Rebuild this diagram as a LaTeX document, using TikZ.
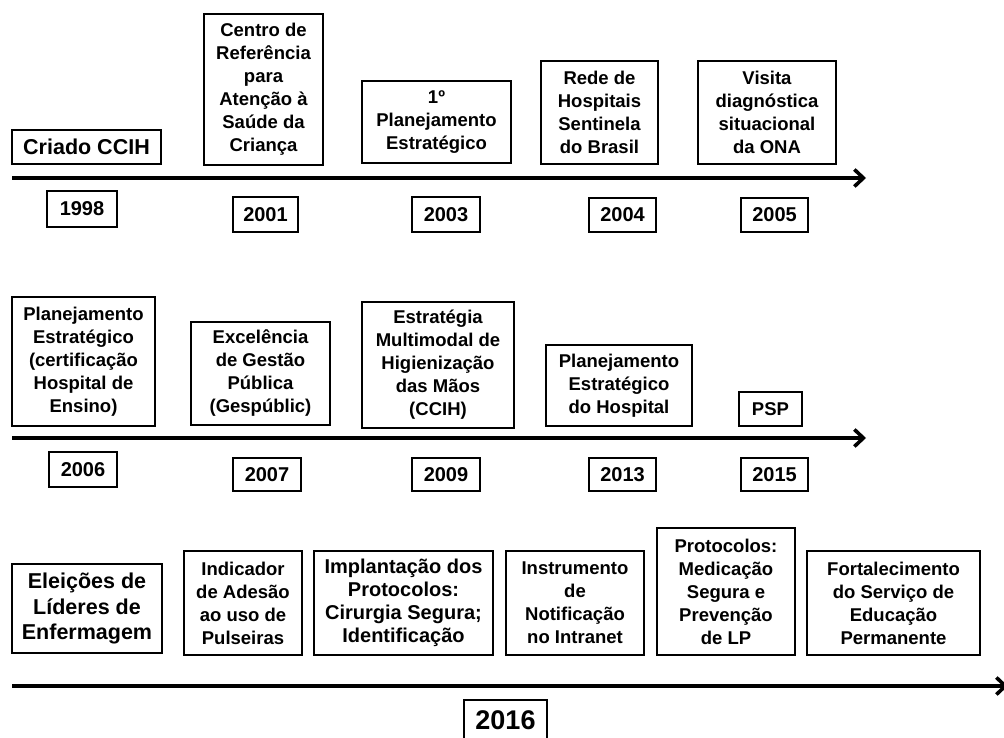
\documentclass[tikz,border=0pt]{standalone}
\usepackage{fontspec}
\setmainfont{Liberation Sans}
\usetikzlibrary{arrows.meta}
\tikzset{
  evbox/.style={draw=black, line width=2.4pt, rectangle, inner sep=0pt, align=center,
    font=\fontsize{18.5}{23}\selectfont\bfseries},
  bigbox/.style={evbox, font=\fontsize{21.5}{25.5}\selectfont\bfseries},
  midbox/.style={evbox, font=\fontsize{20}{23}\selectfont\bfseries},
  yearbox/.style={draw=black, line width=2.4pt, rectangle, inner sep=0pt,
    font=\fontsize{20}{24}\selectfont\bfseries},
  bigyear/.style={yearbox, font=\fontsize{27}{30}\selectfont\bfseries},
  timeline/.style={line width=3.6pt, -{Straight Barb[length=9pt,width=17pt,line width=3.6pt]}}
}
\begin{document}
\begin{tikzpicture}[x=1pt,y=-1pt]
\useasboundingbox (0,0) rectangle (1004,738);
% ---------- Row 1 ----------
\node[bigbox, minimum width=149, minimum height=34] (a1) at (86.5,147) {Criado CCIH};
\node[evbox, minimum width=119, minimum height=151] (a2) at (263.5,89.5) {Centro de\\Referência\\para\\Atenção à\\Saúde da\\Criança};
\node[evbox, minimum width=149, minimum height=82] (a3) at (436.5,122) {1º\\Planejamento\\Estratégico};
\node[evbox, minimum width=117, minimum height=103] (a4) at (599.5,112.5) {Rede de\\Hospitais\\Sentinela\\do Brasil};
\node[evbox, minimum width=138, minimum height=103] (a5) at (767,112.5) {Visita\\diagnóstica\\situacional\\da ONA};
\coordinate (s1) at (12,178);
\coordinate (e1) at (866,178);
\draw[timeline] (s1) -- (e1);
\node[yearbox, minimum width=70, minimum height=36] (y1998) at (82,209) {1998};
\node[yearbox, minimum width=65, minimum height=35] (y2001) at (265.5,214.5) {2001};
\node[yearbox, minimum width=68, minimum height=35] (y2003) at (446,214.5) {2003};
\node[yearbox, minimum width=67, minimum height=34] (y2004) at (622.5,215) {2004};
\node[yearbox, minimum width=67, minimum height=34] (y2005) at (774.5,215) {2005};
% ---------- Row 2 ----------
\node[evbox, minimum width=143, minimum height=129] (b1) at (83.5,361.5) {Planejamento\\Estratégico\\(certificação\\Hospital de\\Ensino)};
\node[evbox, minimum width=139, minimum height=103] (b2) at (260.5,373.5) {Excelência\\de Gestão\\Pública\\(Gespúblic)};
\node[evbox, minimum width=152, minimum height=126] (b3) at (438,365) {Estratégia\\Multimodal de\\Higienização\\das Mãos\\(CCIH)};
\node[evbox, minimum width=146, minimum height=81] (b4) at (619,385.5) {Planejamento\\Estratégico\\do Hospital};
\node[evbox, minimum width=63, minimum height=34] (b5) at (770.5,409) {PSP};
\coordinate (s2) at (12,438);
\coordinate (e2) at (866,438);
\draw[timeline] (s2) -- (e2);
\node[yearbox, minimum width=68, minimum height=35] (y2006) at (83,469.5) {2006};
\node[yearbox, minimum width=68, minimum height=33] (y2007) at (267,474.5) {2007};
\node[yearbox, minimum width=68, minimum height=33] (y2009) at (446,474.5) {2009};
\node[yearbox, minimum width=67, minimum height=33] (y2013) at (622.5,474.5) {2013};
\node[yearbox, minimum width=67, minimum height=33] (y2015) at (774.5,474.5) {2015};
% ---------- Row 3 ----------
\node[bigbox, minimum width=150, minimum height=89] (c1) at (87,608.5) {Eleições de\\Líderes de\\Enfermagem};
\node[evbox, minimum width=118, minimum height=104] (c2) at (243,603) {Indicador\\de Adesão\\ao uso de\\Pulseiras};
\node[midbox, minimum width=179, minimum height=104] (c3) at (403.5,603) {Implantação dos\\Protocolos:\\Cirurgia Segura;\\Identificação};
\node[evbox, minimum width=138, minimum height=104] (c4) at (575,603) {Instrumento\\de\\Notificação\\no Intranet};
\node[evbox, minimum width=138, minimum height=127] (c5) at (726,591.5) {Protocolos:\\Medicação\\Segura e\\Prevenção\\de LP};
\node[evbox, minimum width=173, minimum height=104] (c6) at (893.5,603) {Fortalecimento\\do Serviço de\\Educação\\Permanente};
\coordinate (s3) at (12,686);
\coordinate (e3) at (1008,686);
\draw[timeline] (s3) -- (e3);
\node[bigyear, minimum width=83, minimum height=40] (y2016) at (505.5,720) {2016};
\end{tikzpicture}
\end{document}
